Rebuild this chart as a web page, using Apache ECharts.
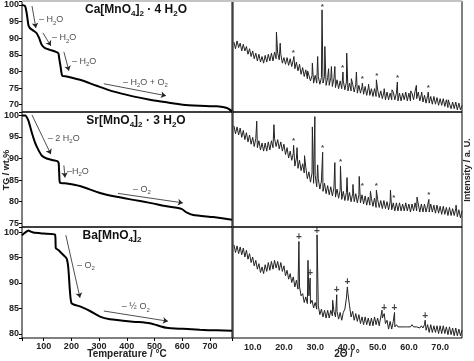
<!DOCTYPE html>
<html><head><meta charset="utf-8">
<script src="https://cdn.jsdelivr.net/npm/echarts@6/dist/echarts.min.js"></script>
<style>html,body{margin:0;padding:0;background:#fff}#c{width:474px;height:361px}</style>
</head><body><div id="c"></div>
<script>
// ---------- TG data (temperature / °C, mass / wt.%) ----------
const caTemp = [22, 33, 39, 45, 51, 63, 75, 84, 93, 105, 123, 141, 153, 156, 161, 167, 183, 231, 291, 350, 422, 483, 544, 602, 663, 725, 761, 779];
const caTG   = [100, 99.7, 97.5, 94.0, 93.0, 92.3, 91.5, 90.0, 88.0, 87.0, 86.5, 86.0, 85.5, 84.0, 81.5, 78.7, 78.5, 77.5, 75.7, 74.0, 72.5, 71.5, 70.7, 70.0, 69.7, 69.5, 69.0, 68.0];
const srTemp = [22, 33, 45, 57, 69, 81, 93, 111, 135, 149, 154, 156, 159, 183, 231, 303, 363, 423, 483, 543, 597, 615, 639, 711, 779];
const srTG   = [100, 100, 98.8, 96.1, 93.7, 92.0, 90.7, 90.0, 89.6, 89.4, 89.0, 86.7, 84.4, 84.2, 83.6, 82.0, 81.1, 80.4, 79.7, 78.9, 78.3, 77.5, 76.9, 76.4, 75.8];
const baTemp = [22, 33, 45, 53, 63, 99, 141, 144, 153, 171, 183, 189, 195, 201, 231, 267, 303, 339, 423, 483, 543, 603, 663, 723, 779];
const baTG   = [99.4, 99.9, 100.3, 100.1, 99.9, 99.7, 99.5, 96.8, 96.5, 95.5, 94.8, 92.9, 88.3, 86.0, 85.4, 84.5, 83.4, 82.9, 82.4, 82.1, 81.2, 81.0, 80.8, 80.7, 80.6];

// ---------- XRD data: intensity sampled from 4.0° in 0.5° steps, plus peak tops ----------
const thetaStart = 4.0, thetaStep = 0.5;
const caXrd = [
  63,57,64,58,62,55,61,55,59,52,
  57,50,55,48,53,46,52,45,50,44,
  51,45,52,46,53,46,54,48,53,47,
  52,44,49,43,49,42,48,41,47,39,
  45,37,43,34,40,32,38,30,36,28,
  33,26,33,26,32,25,31,26,32,24,
  31,24,31,23,30,22,29,21,28,21,
  28,20,27,19,26,19,25,18,25,17,
  24,17,23,16,23,15,22,15,21,14,
  21,14,20,13,19,12,18,11,18,11,
  17,11,18,11,17,10,17,10,17,11,
  18,10,17,10,17,11,19,12,18,10,
  16,9,15,8,15,8,14,7,14,7,
  13,6,12,6,12,5,11,4,10,3,
  9,3,9,2,8,2,6];
const caPeaks = [[17.6,72],[18.8,62],[23.2,50],[27.6,37],[29.1,44],[30.8,50],[32.2,92],[33.1,59],[34.3,39],[35.2,41],[36.3,41],[38.9,36],[40.1,53],[41.6,30],[43.2,36],[45.1,26],[47.1,25],[49.6,29],[52.1,21],[54.6,20],[56.3,27],[60.6,19],[62.4,24],[64.1,18],[66.2,18],[70.2,13],[72.6,11]];
const srXrd = [
  88,81,87,80,86,78,84,76,82,74,
  80,72,78,70,77,69,75,67,73,66,
  73,66,74,67,75,69,77,70,76,68,
  74,66,72,63,69,60,66,58,64,53,
  60,51,58,49,55,47,52,42,48,39,
  47,38,45,35,42,33,40,31,38,29,
  36,28,35,27,34,26,33,25,32,24,
  31,23,30,23,30,22,29,22,29,21,
  28,21,28,20,27,19,26,19,25,18,
  25,17,24,17,23,16,23,16,22,15,
  22,15,21,14,21,14,21,14,20,14,
  21,14,20,13,20,14,21,14,20,13,
  20,13,20,13,19,13,20,13,19,12,
  19,12,18,11,18,11,17,10,17,10,
  16,10,16,9,15,8,14];
const srPeaks = [[11.3,92],[16.8,89],[23.1,71],[24.2,69],[26.6,62],[29.1,87],[29.9,96],[30.8,54],[32.4,65],[36.3,56],[38.1,53],[40.2,43],[42.1,37],[44.1,44],[47.7,31],[49.6,32],[54.1,32],[62.6,26],[66.4,24],[75.1,19]];
const baXrd = [
  84,77,83,76,82,75,81,73,79,71,
  76,68,73,65,70,62,67,59,64,58,
  66,60,68,61,69,62,70,63,69,61,
  68,60,65,56,61,53,58,50,55,46,
  52,44,46,38,40,32,37,31,38,31,
  34,27,32,26,29,21,26,19,25,18,
  25,18,25,20,24,19,24,17,23,16,
  23,26,36,40,29,19,24,16,22,15,
  21,13,19,12,19,12,18,11,18,11,
  19,12,18,11,19,18,19,13,16,8,
  15,8,15,10,12,10,11,10,11,10,
  11,10,11,10,12,10,11,10,11,9,
  11,9,12,7,12,5,12,5,11,5,
  11,4,11,4,11,4,10,3,10,3,
  9,2,9,2,8,2,7];
const baPeaks = [[24.8,87],[27.7,70],[28.4,54],[30.6,93],[35.6,34],[36.9,39],[40.3,46],[51.4,25],[52.1,22],[55.4,23],[65.2,16]];

// reflection markers
const caStars = [[23.0,53],[32.3,95],[38.8,40],[45.1,30],[49.7,33],[56.4,31],[66.2,22]];
const srStars = [[23.1,75],[32.4,69],[38.1,57],[45.1,36],[49.6,36],[55.2,25],[66.4,28]];
const baPlus  = [[24.8,91],[30.6,96],[28.4,58],[36.9,43],[40.3,50],[52.1,27],[55.4,27],[65.2,20]];

// annotations (arrows: from T, TG to T, TG)
const caArrows = [[58,99.7,72,93.1],[97.5,91.6,126,87.7],[173,85.9,191,80.2],[317,76.3,541,72.7]];
const caNotes = [[83,95.5,'– H{s|2}O'],[130,90.1,'– H{s|2}O'],[202,82.9,'– H{s|2}O'],[386,76.6,'– H{s|2}O + O{s|2}']];
const srArrows = [[58,100.1,126,91],[173,88.4,177,85.6],[368,81.9,602,79.7]];
const srNotes = [[115,94.7,'– 2 H{s|2}O'],[184,87.0,'–H{s|2}O'],[422,82.8,'– O{s|2}']];
const baArrows = [[180,99.4,231,87.1],[317,84.5,548,82.5]];
const baNotes = [[220,93.5,'– O{s|2}'],[382,85.3,'– ½ O{s|2}']];

const FONT = 'Liberation Sans, Arial, sans-serif';
const zip = (a, b) => a.map((v, i) => [v, b[i]]);
const xrd = (vals, peaks) => vals.map((v, i) => [thetaStart + i * thetaStep, v]).concat(peaks).sort((p, q) => p[0] - q[0]);

const rows = [[1, 111], [112, 115], [227, 111]];
const grids = [];
rows.forEach(([t, h]) => {
  grids.push({left: 22, top: t, width: 210, height: h, show: true, borderColor: '#000', borderWidth: 1, backgroundColor: 'transparent'});
  grids.push({left: 233, top: t, width: 229, height: h, show: true, borderColor: '#000', borderWidth: 1, backgroundColor: 'transparent'});
});
const yRanges = [[67.8, 101.2], [74.1, 100.8], [79.2, 101]];
const lbl = {fontFamily: FONT, fontSize: 9, fontWeight: 'bold', color: '#222'};
const xAxes = [], yAxes = [];
for (let r = 0; r < 3; r++) {
  const last = r === 2;
  xAxes.push({type: 'value', gridIndex: 2 * r, min: 22, max: 779, minInterval: 100, maxInterval: 100,
    axisLine: {show: false}, splitLine: {show: false},
    axisTick: {show: last, length: 3, lineStyle: {color: '#000'}},
    axisLabel: Object.assign({show: last, margin: 4, formatter: v => (v % 100 === 0 ? String(v) : '')}, lbl)});
  xAxes.push({type: 'value', gridIndex: 2 * r + 1, min: 3.7, max: 77, minInterval: 10, maxInterval: 10,
    axisLine: {show: false}, splitLine: {show: false},
    axisTick: {show: false},
    axisLabel: Object.assign({show: last, margin: 5, formatter: v => (Math.abs(v % 10) < 1e-9 ? v.toFixed(1) : '')}, lbl)});
  yAxes.push({type: 'value', gridIndex: 2 * r, min: yRanges[r][0], max: yRanges[r][1], minInterval: 5, maxInterval: 5,
    axisLine: {show: false}, splitLine: {show: false},
    axisTick: {show: true, length: 3, lineStyle: {color: '#000'}},
    axisLabel: Object.assign({margin: 3, formatter: v => (Math.abs(v % 5) < 1e-9 ? String(v) : '')}, lbl)});
  yAxes.push({type: 'value', gridIndex: 2 * r + 1, min: 0, max: 100, show: false});
}

function tgSeries(idx, t, m, arrows) {
  return {type: 'line', xAxisIndex: idx, yAxisIndex: idx, data: zip(t, m), showSymbol: false, smooth: 0.2,
    lineStyle: {color: '#000', width: 2}, animation: false, silent: true,
    markLine: {silent: true, animation: false, symbol: ['none', 'arrow'], symbolSize: 5, precision: 3,
      lineStyle: {color: '#222', width: 0.8, type: 'solid'}, label: {show: false},
      data: arrows.map(a => [{coord: [a[0], a[1]]}, {coord: [a[2], a[3]]}])}};
}
function noteSeries(idx, notes) {
  return {type: 'scatter', xAxisIndex: idx, yAxisIndex: idx, symbolSize: 0, silent: true, animation: false,
    itemStyle: {color: 'transparent'},
    data: notes.map(n => ({value: [n[0], n[1]], label: {formatter: n[2]}})),
    label: {show: true, position: 'right', distance: 0, color: '#222', fontFamily: FONT, fontSize: 9, lineHeight: 12,
      rich: {s: {fontFamily: FONT, fontSize: 6, lineHeight: 7, verticalAlign: 'bottom', color: '#222'}}}};
}
function xrdSeries(idx, data) {
  return {type: 'line', xAxisIndex: idx, yAxisIndex: idx, data: data, showSymbol: false,
    lineStyle: {color: '#222', width: 1}, animation: false, silent: true};
}
function markSeries(idx, pts, ch, size) {
  return {type: 'scatter', xAxisIndex: idx, yAxisIndex: idx, symbolSize: 0, silent: true, animation: false,
    itemStyle: {color: 'transparent'}, data: pts,
    label: {show: true, position: 'inside', formatter: ch, color: '#111', fontFamily: FONT, fontSize: size, fontWeight: 'bold'}};
}

const sub = {fontFamily: FONT, fontSize: 8, fontWeight: 'bold', lineHeight: 8, verticalAlign: 'bottom', fill: '#111'};
function title(x, y, text) {
  return {type: 'text', x: x, y: y, silent: true,
    style: {text: text, fontFamily: FONT, fontSize: 12, fontWeight: 'bold', lineHeight: 15, fill: '#111',
      align: 'center', verticalAlign: 'middle', rich: {s: sub}}};
}

const chart = echarts.init(document.getElementById('c'), null, {renderer: 'canvas'});
chart.setOption({
  animation: false,
  backgroundColor: '#fff',
  grid: grids,
  xAxis: xAxes,
  yAxis: yAxes,
  series: [
    tgSeries(0, caTemp, caTG, caArrows), noteSeries(0, caNotes),
    tgSeries(2, srTemp, srTG, srArrows), noteSeries(2, srNotes),
    tgSeries(4, baTemp, baTG, baArrows), noteSeries(4, baNotes),
    xrdSeries(1, xrd(caXrd, caPeaks)), markSeries(1, caStars, '*', 8),
    xrdSeries(3, xrd(srXrd, srPeaks)), markSeries(3, srStars, '*', 8),
    xrdSeries(5, xrd(baXrd, baPeaks)), markSeries(5, baPlus, '+', 10)
  ],
  graphic: [
    {type: 'rect', shape: {x: 22, y: 0, width: 440, height: 2}, style: {fill: '#c4c4c4'}, silent: true},
    title(136, 10, 'Ca[MnO{s|4}]{s|2} · 4 H{s|2}O'),
    title(136, 121, 'Sr[MnO{s|4}]{s|2} · 3 H{s|2}O'),
    title(112, 236, 'Ba[MnO{s|4}]{s|2}'),
    {type: 'text', x: 127, y: 354, silent: true, style: {text: 'Temperature / °C', fontFamily: FONT, fontSize: 10, fontWeight: 'bold', fill: '#222', align: 'center', verticalAlign: 'middle'}},
    {type: 'text', x: 347, y: 354, silent: true, style: {text: '2Θ / °', fontFamily: FONT, fontSize: 10, fontWeight: 'bold', fill: '#222', align: 'center', verticalAlign: 'middle'}},
    {type: 'text', x: 7, y: 170, rotation: Math.PI / 2, silent: true, style: {text: 'TG / wt.%', fontFamily: FONT, fontSize: 9, fontWeight: 'bold', fill: '#222', align: 'center', verticalAlign: 'middle'}},
    {type: 'text', x: 468, y: 170, rotation: Math.PI / 2, silent: true, style: {text: 'Intensity / a. U.', fontFamily: FONT, fontSize: 9, fontWeight: 'bold', fill: '#222', align: 'center', verticalAlign: 'middle'}}
  ]
});
</script></body></html>
